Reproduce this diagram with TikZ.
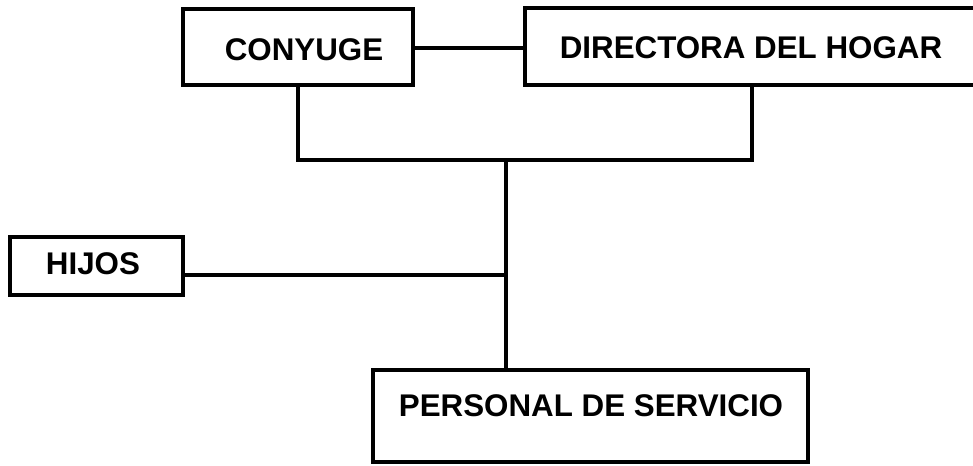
\documentclass[tikz,border=0pt]{standalone}
\usepackage{fontspec}
\setmainfont{Liberation Sans}
\begin{document}
\begin{tikzpicture}[x=0.75pt,y=-0.75pt,
  box/.style={draw=black,line width=3pt,fill=none,inner sep=0pt,minimum width=#1},
  lbl/.style={font=\bfseries\fontsize{23.5}{26}\selectfont,inner sep=0pt},
  conn/.style={line width=3pt,line cap=rect}]
\useasboundingbox[fill=white] (0,0) rectangle (973,465);
% boxes
\node[box=230*0.75pt,minimum height=76*0.75pt] (cony) at (298,47) {};
\node[box=452*0.75pt,minimum height=77*0.75pt] (dir) at (751,46.5) {};
\node[box=173*0.75pt,minimum height=58*0.75pt] (hij) at (96.5,266) {};
\node[box=435*0.75pt,minimum height=92*0.75pt] (pers) at (590.5,416) {};
% texts
\node[lbl] (tcony) at (304,50) {CONYUGE};
\node[lbl] (tdir) at (751,48) {DIRECTORA DEL HOGAR};
\node[lbl] (thij) at (93,264) {HIJOS};
\node[lbl] (tpers) at (591,406) {PERSONAL DE SERVICIO};
% junctions
\coordinate (j) at (506,160);
\coordinate (h) at (506,275);
\coordinate (cj) at (298,160);
\coordinate (dj) at (752,160);
% connectors
\draw[line width=3pt] (cony.east |- 0,48) -- (dir.west |- 0,48);
\draw[line width=3pt] (cony.south) -- (cj) -- (dj) -- (dir.south -| dj);
\draw[line width=3pt] (j) -- (pers.north -| j);
\draw[line width=3pt] (hij.east |- h) -- (h);
\end{tikzpicture}
\end{document}
